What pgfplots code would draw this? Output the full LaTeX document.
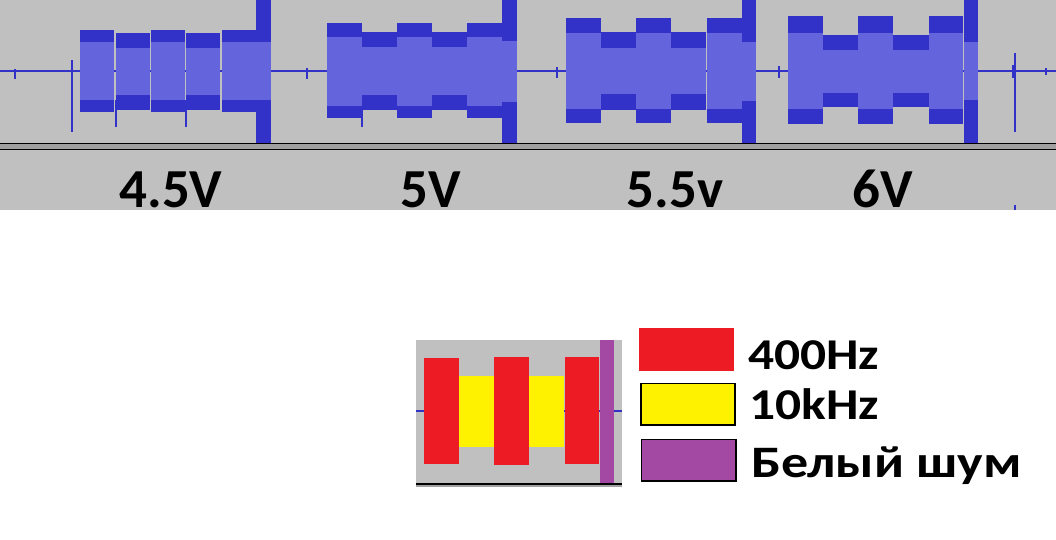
\documentclass[border=0pt]{standalone}
\usepackage{pgfplots}
\pgfplotsset{compat=1.18}
\usepackage{fontspec}
\setmainfont{Carlito}
\usepackage{graphicx}

\definecolor{bggray}{HTML}{C0C0C0}
\definecolor{midgray}{HTML}{A0A0A0}
\definecolor{wdark}{HTML}{3232C8}
\definecolor{wlight}{HTML}{6464DC}
\definecolor{tred}{HTML}{ED1C24}
\definecolor{tyellow}{HTML}{FFF200}
\definecolor{tpurple}{HTML}{A349A4}

\tikzset{
  dk/.style={fill=wdark,draw=none},
  lt/.style={fill=wlight,draw=none},
}

% rectangle in pixel coords: x1 y1 x2 y2 style
\newcommand\rect[5]{\addplot[#5] coordinates {(#1,#2) (#3,#2) (#3,#4) (#1,#4)} -- cycle;}
% waveform block: x1 x2, dark top/bottom, light top/bottom
\newcommand\seg[6]{\rect{#1}{#3}{#2}{#4}{dk}\rect{#1}{#5}{#2}{#6}{lt}}
\newcommand\spike[3]{\addplot[wdark,line width=1.2pt] coordinates {(#1,#2) (#1,#3)};}

\begin{document}
\begin{tikzpicture}
\begin{axis}[
    scale only axis,
    width=1056pt, height=539pt,
    xmin=0, xmax=1056, ymin=0, ymax=539,
    y dir=reverse,
    hide axis,
    enlargelimits=false,
]
% backgrounds
\rect{0}{0}{1056}{539}{fill=white,draw=none}
\rect{0}{0}{1056}{143}{fill=bggray,draw=none}
\rect{0}{143}{1056}{149}{fill=midgray,draw=none}
\rect{0}{149}{1056}{210}{fill=bggray,draw=none}
\addplot[black,line width=1pt] coordinates {(0,143) (1056,143)};
\addplot[black,line width=1pt] coordinates {(0,149) (1056,149)};

% centre line and spikes
\addplot[wdark,line width=2.7pt] coordinates {(0,71) (1056,71)};
\spike{15}{69}{79}
\spike{72}{60}{132}
\spike{116}{100}{127}
\spike{186}{100}{127}
\spike{307}{68}{79}
\spike{362}{100}{127}
\spike{557}{67}{78}
\spike{779}{66}{78}
\spike{1013}{65}{78}
\spike{1015}{53}{132}
\spike{1046}{68}{75}
\spike{1015}{205}{210}

% 4.5V
\seg{80}{114.3}{30}{112}{42}{100}
\seg{115.7}{150}{33}{110}{48}{95}
\seg{151}{185}{30}{112}{42}{100}
\seg{186}{220}{33}{110}{48}{95}
\seg{222}{256}{30}{112}{42}{100}
\seg{256}{271}{0}{143}{42}{100}
% 5V
\seg{327}{362}{23}{118}{37}{106}
\seg{362}{397}{32}{110}{47}{95}
\seg{397}{432}{23}{118}{37}{106}
\seg{432}{467}{32}{110}{47}{95}
\seg{467}{502}{23}{118}{37}{106}
\seg{502}{517}{0}{143}{41}{102}
% 5.5v
\seg{566}{601}{18}{123}{33}{109}
\seg{601}{636}{32}{110}{48}{94}
\seg{636}{671}{18}{123}{33}{109}
\seg{671}{706}{32}{110}{48}{94}
\seg{707}{742}{18}{123}{33}{109}
\seg{742}{756}{0}{143}{42}{101}
% 6V
\seg{788}{823}{16}{124}{33}{109}
\seg{823}{858}{35}{107}{50}{93}
\seg{858}{893}{16}{124}{33}{109}
\seg{893}{929}{35}{107}{50}{93}
\seg{929}{963}{16}{124}{33}{109}
\seg{964}{978}{0}{143}{42}{100}

% voltage labels
\node[anchor=base,inner sep=0pt,font=\bfseries\fontsize{55}{60}\selectfont] at (axis cs:171,207) {4.5V};
\node[anchor=base,inner sep=0pt,font=\bfseries\fontsize{55}{60}\selectfont] at (axis cs:431,207) {5V};
\node[anchor=base,inner sep=0pt,font=\bfseries\fontsize{55}{60}\selectfont] at (axis cs:675,207) {5.5v};
\node[anchor=base,inner sep=0pt,font=\bfseries\fontsize{55}{60}\selectfont] at (axis cs:883,207) {6V};

% legend inset
\rect{416}{340}{622}{484}{fill=bggray,draw=none}
\rect{416}{484}{622}{486.5}{fill=midgray,draw=none}
\addplot[black,line width=1.2pt] coordinates {(416,484) (622,484)};
\addplot[wdark,line width=2.7pt] coordinates {(416,411) (622,411)};
\rect{424}{358}{459}{464}{fill=tred,draw=none}
\rect{459}{376}{494}{447}{fill=tyellow,draw=none}
\rect{494}{357}{529}{465}{fill=tred,draw=none}
\rect{529}{376}{564}{447}{fill=tyellow,draw=none}
\rect{565}{357}{599}{464}{fill=tred,draw=none}
\rect{600}{340}{614}{483}{fill=tpurple,draw=none}

% legend keys
\rect{639}{328}{734}{371}{fill=tred,draw=none}
\rect{641}{383.5}{735}{425}{fill=tyellow,draw=black,line width=1.3pt}
\rect{641.5}{439.5}{736}{481}{fill=tpurple,draw=black,line width=1.3pt}
\node[anchor=base west,inner sep=0pt,font=\bfseries\fontsize{44}{50}\selectfont] at (axis cs:748,369) {\scalebox{1.17}[1]{400Hz}};
\node[anchor=base west,inner sep=0pt,font=\bfseries\fontsize{44}{50}\selectfont] at (axis cs:749,419) {\scalebox{1.17}[1]{10kHz}};
\node[anchor=base west,inner sep=0pt,font=\bfseries\fontsize{45}{50}\selectfont] at (axis cs:751,477) {\scalebox{1.2}[1]{Белый шум}};
\end{axis}
\end{tikzpicture}
\end{document}
